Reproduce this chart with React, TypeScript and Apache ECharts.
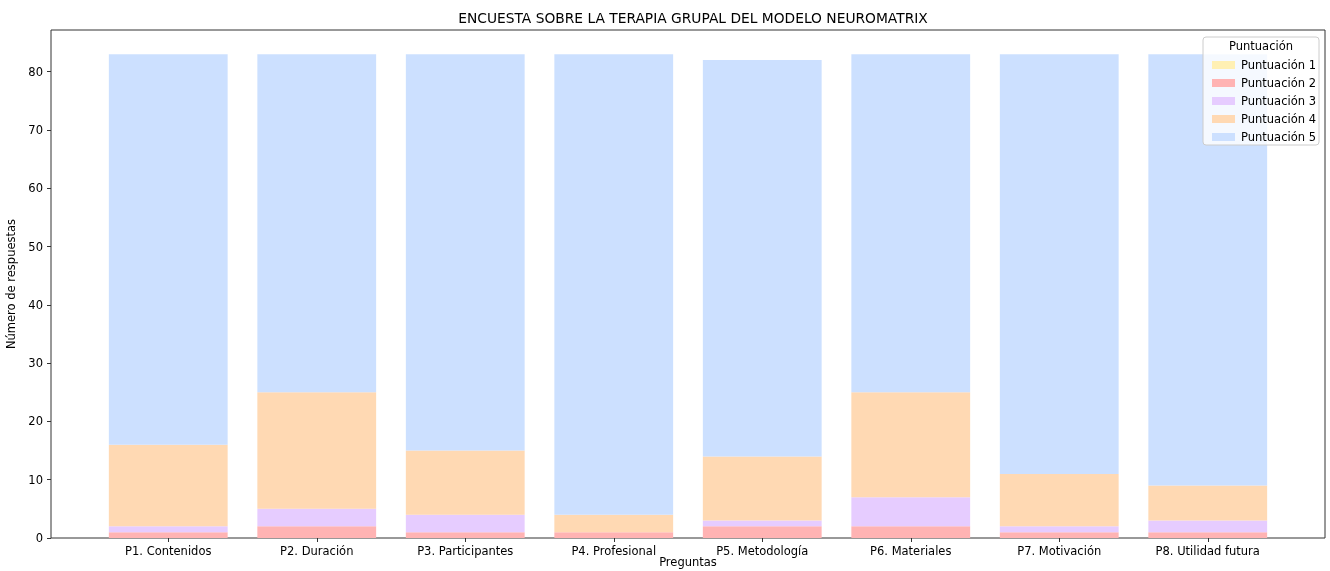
import React, { useEffect, useRef } from "react";
import * as echarts from "echarts";

const categories = [
  "P1. Contenidos",
  "P2. Duración",
  "P3. Participantes",
  "P4. Profesional",
  "P5. Metodología",
  "P6. Materiales",
  "P7. Motivación",
  "P8. Utilidad futura",
];
const seriesNames = ["Puntuación 1", "Puntuación 2", "Puntuación 3", "Puntuación 4", "Puntuación 5"];
const score1 = [0, 0, 0, 0, 0, 0, 0, 0];
const score2 = [1, 2, 1, 1, 2, 2, 1, 1];
const score3 = [1, 3, 3, 0, 1, 5, 1, 2];
const score4 = [14, 20, 11, 3, 11, 18, 9, 6];
const score5 = [67, 58, 68, 79, 68, 58, 72, 74];
const seriesValues = [score1, score2, score3, score4, score5];
const colors = ["#FFF0B3", "#FFB3B3", "#E6CCFF", "#FFD9B3", "#CCE0FF"];
const yTicks = [0, 10, 20, 30, 40, 50, 60, 70, 80];

const FONT = "DejaVu Sans";
const Y_MAX = 87.15;

export default function App() {
  const ref = useRef<HTMLDivElement>(null);
  useEffect(() => {
    const chart = echarts.init(ref.current!, null, { renderer: "svg" });
    const option: any = {
      animation: false,
      textStyle: { fontFamily: FONT },
      title: {
        text: "ENCUESTA SOBRE LA TERAPIA GRUPAL DEL MODELO NEUROMATRIX",
        left: 688,
        top: 6,
        textAlign: "center",
        textStyle: { fontFamily: FONT, fontSize: 13.8, fontWeight: "normal", color: "#000" },
      },
      grid: [
        { left: 51, top: 30, width: 1274, height: 508, show: true, borderColor: "#333", borderWidth: 1, backgroundColor: "transparent", outerBoundsMode: "none", containLabel: false },
        { left: 94, top: 30, width: 1188, height: 508, outerBoundsMode: "none", containLabel: false },
      ],
      xAxis: [
        { type: "value", gridIndex: 0, min: 0, max: 1, show: false },
        {
          type: "category",
          gridIndex: 1,
          data: categories,
          axisLine: { show: false },
          axisTick: { show: true, alignWithLabel: true, length: 4, lineStyle: { color: "#333" } },
          axisLabel: { fontFamily: FONT, fontSize: 11.5, color: "#000", margin: 7 },
        },
      ],
      yAxis: [
        {
          type: "value",
          gridIndex: 0,
          min: 0,
          max: Y_MAX,
          interval: 10,
          axisLine: { show: false },
          splitLine: { show: false },
          axisTick: {
            show: true,
            length: 4,
            lineStyle: { color: "#333" },
            customValues: yTicks,
          },
          axisLabel: {
            fontFamily: FONT,
            fontSize: 11.5,
            color: "#000",
            margin: 8,
            customValues: yTicks,
          },
          name: "Número de respuestas",
          nameLocation: "middle",
          nameGap: 33,
          nameTextStyle: { fontFamily: FONT, fontSize: 11.5, color: "#000" },
        },
        { type: "value", gridIndex: 1, min: 0, max: Y_MAX, show: false },
      ],
      legend: {
        orient: "vertical",
        left: 1207,
        top: 54,
        itemWidth: 23,
        itemHeight: 8,
        itemGap: 6,
        icon: "rect",
        z: 20,
        data: seriesNames,
        textStyle: { fontFamily: FONT, fontSize: 11.5, color: "#000", padding: [0, 0, 0, 1] },
      },
      graphic: [
        {
          type: "rect",
          z: 15,
          shape: { x: 1203, y: 37, width: 116, height: 108, r: 3 },
          style: { fill: "rgba(255,255,255,0.8)", stroke: "#cccccc", lineWidth: 1 },
        },
        {
          type: "text",
          z: 16,
          x: 1261,
          y: 46,
          style: {
            text: "Puntuación",
            font: `11.5px '${FONT}'`,
            fill: "#000",
            textAlign: "center",
            textVerticalAlign: "middle",
          },
        },
        {
          type: "text",
          z: 16,
          x: 688,
          y: 562,
          style: {
            text: "Preguntas",
            font: `11.5px '${FONT}'`,
            fill: "#000",
            textAlign: "center",
            textVerticalAlign: "middle",
          },
        },
      ],
      series: seriesNames.map((name, i) => ({
        name,
        type: "bar",
        stack: "total",
        xAxisIndex: 1,
        yAxisIndex: 1,
        barWidth: "80%",
        data: seriesValues[i],
        itemStyle: { color: colors[i], borderWidth: 0 },
        emphasis: { disabled: true },
      })),
    };
    chart.setOption(option);
    return () => chart.dispose();
  }, []);
  return <div ref={ref} style={{ position: "fixed", left: 0, top: 0, width: 1330, height: 571 }} />;
}
